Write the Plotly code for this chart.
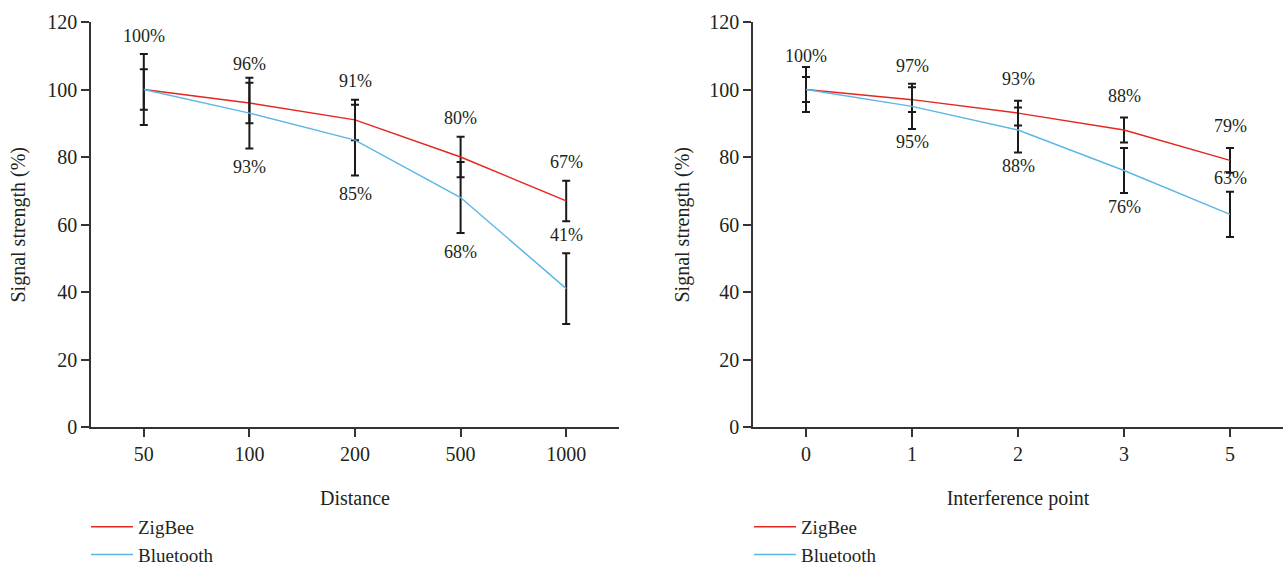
import plotly.graph_objects as go

# ---------------- data ----------------
dist_cats = ["50", "100", "200", "500", "1000"]
dist_zigbee = [100, 96, 91, 80, 67]
dist_bluetooth = [100, 93, 85, 68, 41]
dist_zigbee_err = [6, 6, 6, 6, 6]
dist_bluetooth_err = [10.5, 10.5, 10.5, 10.5, 10.5]

intf_cats = ["0", "1", "2", "3", "5"]
intf_zigbee = [100, 97, 93, 88, 79]
intf_bluetooth = [100, 95, 88, 76, 63]
intf_zigbee_err = [3.7, 3.7, 3.7, 3.7, 3.7]
intf_bluetooth_err = [6.7, 6.7, 6.7, 6.7, 6.7]

y_ticks = [0, 20, 40, 60, 80, 100, 120]

# label placement: +1 above, -1 below, 0 hidden
dist_zigbee_side = [0, 1, 1, 1, 1]
dist_bluetooth_side = [1, -1, -1, -1, 1]
intf_zigbee_side = [1, 1, 1, 1, 1]
intf_bluetooth_side = [0, -1, -1, -1, 1]

RED = "#e5261f"
BLUE = "#5db7e5"
TXT = "#231f20"
FONT = "Liberation Serif"

fig = go.Figure()

def add_panel(cats, zb, bt, zb_err, bt_err, xa, ya, legend):
    fig.add_trace(go.Scatter(
        x=cats, y=zb, mode="lines", name="ZigBee",
        line=dict(color=RED, width=1.5),
        error_y=dict(type="data", array=zb_err, visible=True, color="#1a1a1a", thickness=2, width=4),
        xaxis=xa, yaxis=ya, legend=legend))
    fig.add_trace(go.Scatter(
        x=cats, y=bt, mode="lines", name="Bluetooth",
        line=dict(color=BLUE, width=1.5),
        error_y=dict(type="data", array=bt_err, visible=True, color="#1a1a1a", thickness=2, width=4),
        xaxis=xa, yaxis=ya, legend=legend))

add_panel(dist_cats, dist_zigbee, dist_bluetooth, dist_zigbee_err, dist_bluetooth_err, "x", "y", "legend")
add_panel(intf_cats, intf_zigbee, intf_bluetooth, intf_zigbee_err, intf_bluetooth_err, "x2", "y2", "legend2")

def add_labels(cats, vals, sides, shift_px, xa, ya):
    for i, (c, v, s) in enumerate(zip(cats, vals, sides)):
        if s == 0:
            continue
        fig.add_annotation(x=i, y=v, xref=xa, yref=ya, text=f"{v}%", showarrow=False,
                           yshift=s * shift_px, yanchor="middle",
                           font=dict(family=FONT, size=18, color=TXT))

add_labels(dist_cats, dist_zigbee, dist_zigbee_side, 39, "x", "y")
add_labels(dist_cats, dist_bluetooth, dist_bluetooth_side, 54, "x", "y")
add_labels(intf_cats, intf_zigbee, intf_zigbee_side, 34, "x2", "y2")
add_labels(intf_cats, intf_bluetooth, intf_bluetooth_side, 36, "x2", "y2")

W, H = 1284, 565
axis_common = dict(showline=True, linecolor="#333333", linewidth=1.5, ticks="outside",
                   ticklen=8, tickwidth=1.5, tickcolor="#333333", showgrid=False, zeroline=False,
                   automargin=True,
                   tickfont=dict(family=FONT, size=20, color=TXT))

xcommon = dict(axis_common, type="category", range=[-0.5, 4.5])
ycommon = dict(axis_common, range=[0, 120], tickvals=y_ticks)
tfont = dict(family=FONT, size=20, color=TXT)

# y-axis titles as rotated text (paper x spans the full width since l=r=0)
for xpx in (18, 682):
    fig.add_annotation(x=xpx / W, y=0.5, xref="paper", yref="paper", text="Signal strength (%)",
                       textangle=-90, showarrow=False, xanchor="center", yanchor="middle", font=tfont)

fig.update_layout(
    width=W, height=H,
    margin=dict(l=0, r=0, t=22, b=138, autoexpand=False),
    paper_bgcolor="white", plot_bgcolor="white",
    font=dict(family=FONT, size=19, color=TXT),
    xaxis=dict(xcommon, domain=[91 / W, 619 / W], anchor="y",
               title=dict(text="Distance", font=tfont, standoff=27)),
    yaxis=dict(ycommon, anchor="x"),
    xaxis2=dict(xcommon, domain=[753 / W, 1283 / W], anchor="y2",
                title=dict(text="Interference point", font=tfont, standoff=27)),
    yaxis2=dict(ycommon, anchor="x2"),
    legend=dict(xref="container", yref="container", x=86 / W, y=(H - 508) / H,
                xanchor="left", yanchor="top", bgcolor="rgba(0,0,0,0)", itemwidth=42,
                font=dict(family=FONT, size=19, color=TXT), tracegroupgap=0),
    legend2=dict(xref="container", yref="container", x=749 / W, y=(H - 508) / H,
                 xanchor="left", yanchor="top", bgcolor="rgba(0,0,0,0)", itemwidth=42,
                 font=dict(family=FONT, size=19, color=TXT), tracegroupgap=0),
    showlegend=True,
)

fig.write_html("out.html")
